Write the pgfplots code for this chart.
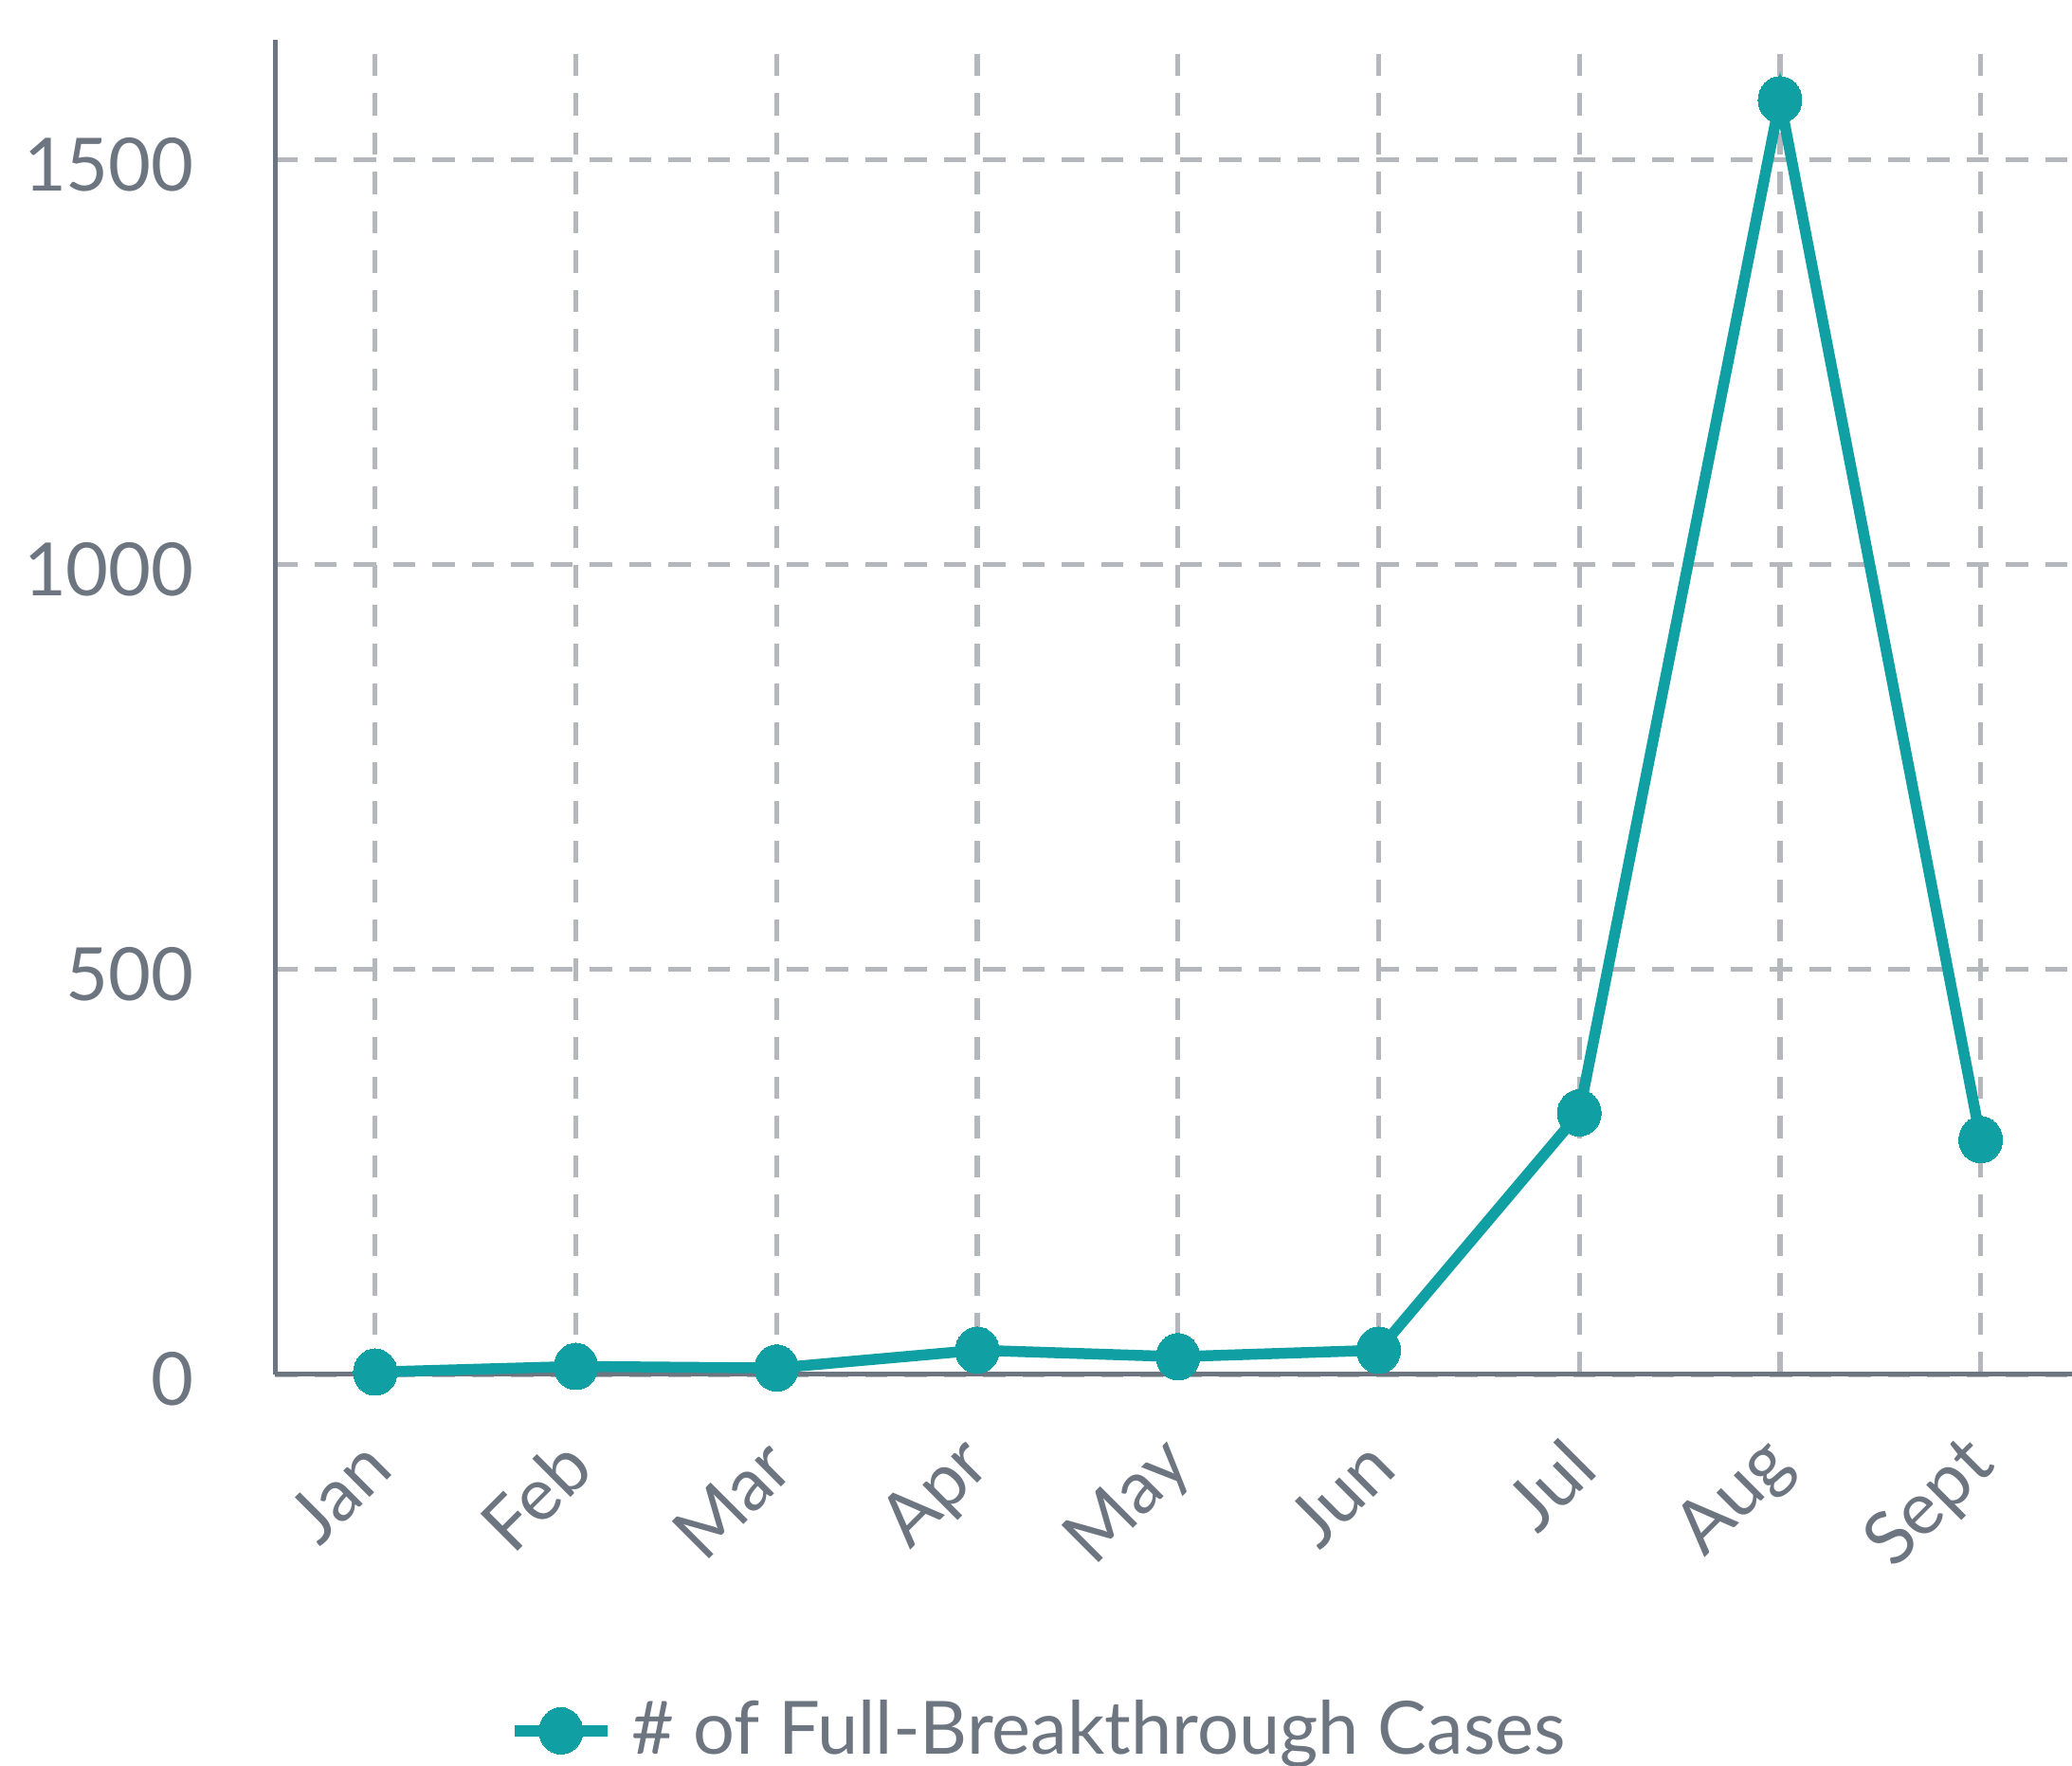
\documentclass[border=0pt]{standalone}
\usepackage{pgfplots}
\pgfplotsset{compat=1.18}
\usepackage{fontspec}
\setmainfont{Lato}
\definecolor{teal1}{HTML}{109FA3}
\definecolor{txtgrey}{HTML}{6C7580}
\definecolor{gridgrey}{HTML}{B4B7BB}
\begin{document}
\begin{tikzpicture}
\useasboundingbox (0,0) rectangle (437.2pt,372.6pt);
\begin{axis}[
  at={(58pt,82.6pt)}, anchor=south west,
  scale only axis=true,
  width=379.2pt, height=281.6pt,
  xmin=-0.5, xmax=8.455,
  ymin=0, ymax=1648,
  clip=false,
  axis lines*=left,
  axis line style={txtgrey, line width=1pt},
  major tick length=0pt,
  xtick={0,...,8},
  xticklabels={Jan,Feb,Mar,Apr,May,Jun,Jul,Aug,Sept},
  ytick={0,500,1000,1500},
  grid=major,
  major grid style={gridgrey, line width=1.05pt, dash pattern=on 4.7pt off 3.6pt},
  tick label style={font=\fontsize{15.5}{18}\selectfont, text=txtgrey},
  /pgf/number format/assume math mode=true,
  /pgf/number format/1000 sep={},
  yticklabel style={anchor=east, xshift=-13.5pt, yshift=-1pt},
  xticklabel style={anchor=east, xshift=0.5pt, yshift=-16.5pt, rotate=45, inner sep=0pt},
  legend style={at={(0.427,-0.267)}, anchor=center, draw=none, fill=none,
    font=\fontsize{15.5}{18}\selectfont, text=txtgrey},
  legend image code/.code={\draw[mark repeat=2,mark phase=2,#1] plot coordinates {(0pt,0pt) (9.75pt,0pt) (19.5pt,0pt)};},
]
\addplot[teal1, line width=2.3pt, mark=*, mark size=4.9pt, mark options={fill=teal1, draw=teal1, line width=0pt, xscale=0.94}]
  coordinates {(0,3) (1,10) (2,8) (3,30) (4,22) (5,30) (6,323) (7,1574) (8,290)};
\addlegendentry{\hspace*{2pt}\# of Full-Breakthrough Cases}
\end{axis}
\end{tikzpicture}
\end{document}
